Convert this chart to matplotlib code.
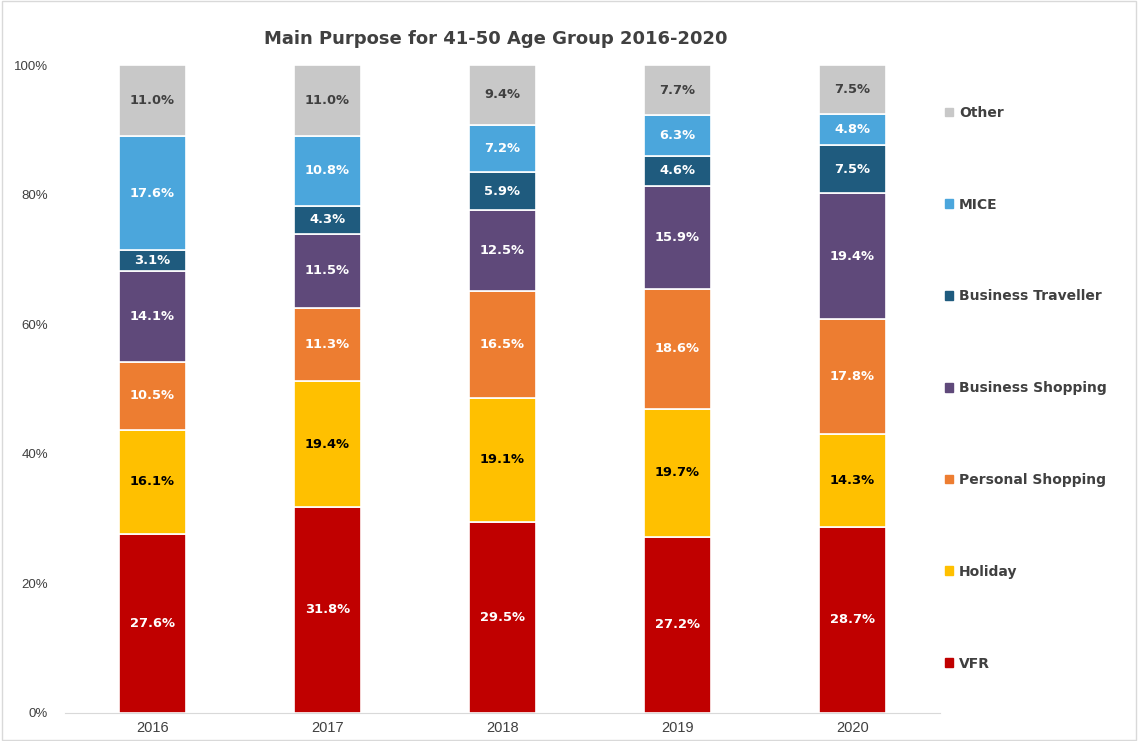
import matplotlib.pyplot as plt
import matplotlib.patches as mpatches
import numpy as np

years = ["2016", "2017", "2018", "2019", "2020"]
categories = ["VFR", "Holiday", "Personal Shopping", "Business Shopping",
              "Business Traveller", "MICE", "Other"]
vfr = [27.6, 31.8, 29.5, 27.2, 28.7]
holiday = [16.1, 19.4, 19.1, 19.7, 14.3]
personal_shopping = [10.5, 11.3, 16.5, 18.6, 17.8]
business_shopping = [14.1, 11.5, 12.5, 15.9, 19.4]
business_traveller = [3.1, 4.3, 5.9, 4.6, 7.5]
mice = [17.6, 10.8, 7.2, 6.3, 4.8]
other = [11.0, 11.0, 9.4, 7.7, 7.5]
series = [vfr, holiday, personal_shopping, business_shopping,
          business_traveller, mice, other]

colors = ["#C00000", "#FFC000", "#ED7D31", "#5F497A", "#1F5B7E", "#4BA6DC", "#C8C8C8"]
text_colors = ["white", "black", "white", "white", "white", "white", "#404040"]

fig = plt.figure(figsize=(11.38, 7.41), dpi=100)
ax = fig.add_axes([0.057, 0.038, 0.769, 0.874])

x = np.arange(len(years))
bottom = np.zeros(len(years))
for vals, col, tcol in zip(series, colors, text_colors):
    vals = np.array(vals)
    ax.bar(x, vals, 0.385, bottom=bottom, color=col, edgecolor="white", linewidth=1.2)
    for xi, b, v in zip(x, bottom, vals):
        ax.text(xi, b + v / 2, f"{v:.1f}%", ha="center", va="center",
                color=tcol, fontsize=9.4, fontweight="bold", family="DejaVu Sans")
    bottom += vals

ax.set_xlim(-0.5, 4.5)
ax.set_ylim(0, 100)
ax.set_xticks(x)
ax.set_xticklabels(years, family="Liberation Sans", fontsize=10.5, color="#404040")
ax.set_yticks([0, 20, 40, 60, 80, 100])
ax.set_yticklabels(["0%", "20%", "40%", "60%", "80%", "100%"],
                   family="Liberation Sans", fontsize=9.5, color="#404040")
ax.tick_params(length=0, pad=6)
ax.tick_params(axis="y", pad=12)
for s in ["top", "right", "left"]:
    ax.spines[s].set_visible(False)
ax.spines["bottom"].set_color("#D9D9D9")

fig.text(0.436, 0.948, "Main Purpose for 41-50 Age Group 2016-2020", ha="center", va="center",
         fontsize=13, fontweight="bold", color="#404040", family="DejaVu Sans")

handles = [mpatches.Patch(color=c, label=l) for c, l in zip(colors, categories)][::-1]
leg = fig.legend(handles=handles, loc="upper left", bbox_to_anchor=(0.8195, 0.874),
                 frameon=False, labelspacing=5.6, handlelength=0.6, handleheight=0.6,
                 handletextpad=0.4, prop={"family": "DejaVu Sans", "weight": "bold", "size": 10})
for t in leg.get_texts():
    t.set_color("#404040")

border = mpatches.Rectangle((0.002, 0.002), 0.996, 0.996, transform=fig.transFigure,
                            fill=False, edgecolor="#D9D9D9", linewidth=1)
fig.patches.append(border)

fig.savefig("out.png", dpi=100)
